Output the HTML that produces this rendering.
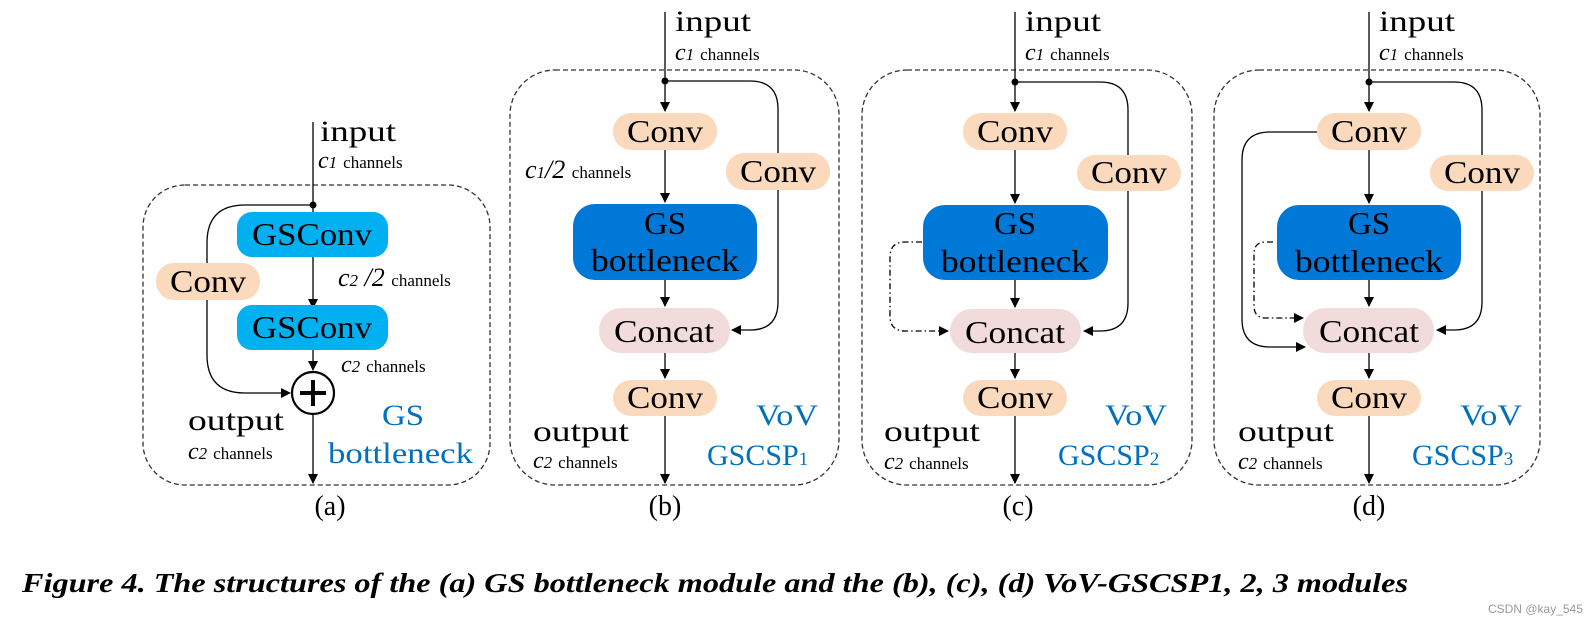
<!DOCTYPE html>
<html><head><meta charset="utf-8"><style>
html,body{margin:0;padding:0;background:#fff;}
svg{display:block;font-family:"Liberation Serif",serif;}
</style></head><body>
<svg width="1590" height="633" viewBox="0 0 1590 633" xmlns="http://www.w3.org/2000/svg">
<defs>
<marker id="ar" markerWidth="10" markerHeight="10" refX="9" refY="5" orient="auto" markerUnits="userSpaceOnUse">
<path d="M0,0 L10,5 L0,10 Z" fill="#000"/></marker>
</defs>
<g stroke="#000" stroke-width="1.3" fill="none">
<rect x="143" y="185" width="347" height="300" rx="42" stroke-dasharray="5,3" stroke="#333"/>
<rect x="510" y="70" width="329" height="415" rx="45" stroke-dasharray="5,3" stroke="#333"/>
<rect x="862" y="70" width="330" height="415" rx="45" stroke-dasharray="5,3" stroke="#333"/>
<rect x="1214" y="70" width="326" height="415" rx="45" stroke-dasharray="5,3" stroke="#333"/>
</g>

<!-- Panel a -->
<g stroke="#000" stroke-width="1.3" fill="none">
<line x1="313" y1="122" x2="313" y2="212"/>
<line x1="313" y1="257" x2="313" y2="308" marker-end="url(#ar)"/>
<line x1="313" y1="350" x2="313" y2="370" marker-end="url(#ar)"/>
<line x1="313" y1="414" x2="313" y2="483" marker-end="url(#ar)"/>
<path d="M313,205 H245 Q207,205 207,243 V355 Q207,393 245,393 H290" marker-end="url(#ar)"/>
<circle cx="313" cy="393" r="21" stroke-width="2.2"/>
<line x1="300" y1="393" x2="326" y2="393" stroke-width="4"/>
<line x1="313" y1="380" x2="313" y2="406" stroke-width="4"/>
</g>
<circle cx="313" cy="205" r="3.5"/>
<rect x="237" y="212" width="151" height="45" rx="15" fill="#00b0f0"/>
<rect x="237" y="305" width="151" height="45" rx="15" fill="#00b0f0"/>
<rect x="156" y="263" width="104" height="37" rx="18" fill="#fbd9bd"/>
<g font-size="32" fill="#000">
<text x="312" y="245" text-anchor="middle" textLength="120" lengthAdjust="spacingAndGlyphs">GSConv</text>
<text x="312" y="338" text-anchor="middle" textLength="120" lengthAdjust="spacingAndGlyphs">GSConv</text>
<text x="208" y="292" text-anchor="middle" textLength="76" lengthAdjust="spacingAndGlyphs">Conv</text>
<text x="320" y="141" font-size="30" textLength="76" lengthAdjust="spacingAndGlyphs">input</text>
<text x="318" y="168" font-size="24" font-style="italic">c<tspan font-size="17">1</tspan> <tspan font-style="normal" font-size="17">channels</tspan></text>
<text x="338" y="286" font-size="26" font-style="italic">c<tspan font-size="17">2</tspan> /2 <tspan font-style="normal" font-size="17">channels</tspan></text>
<text x="341" y="372" font-size="24" font-style="italic">c<tspan font-size="17">2</tspan> <tspan font-style="normal" font-size="17">channels</tspan></text>
<text x="188" y="430" font-size="30" textLength="96" lengthAdjust="spacingAndGlyphs">output</text>
<text x="188" y="459" font-size="24" font-style="italic">c<tspan font-size="17">2</tspan> <tspan font-style="normal" font-size="17">channels</tspan></text>
<text x="382" y="425" font-size="30" fill="#0070c0" textLength="42" lengthAdjust="spacingAndGlyphs">GS</text>
<text x="328" y="463" font-size="30" fill="#0070c0" textLength="145" lengthAdjust="spacingAndGlyphs">bottleneck</text>
<text x="330" y="515" font-size="28" text-anchor="middle">(a)</text>
</g>

<!-- Panel b -->
<g stroke="#000" stroke-width="1.3" fill="none">
<line x1="665" y1="12" x2="665" y2="111" marker-end="url(#ar)"/>
<line x1="665" y1="150" x2="665" y2="202" marker-end="url(#ar)"/>
<line x1="665" y1="280" x2="665" y2="306" marker-end="url(#ar)"/>
<line x1="665" y1="353" x2="665" y2="378" marker-end="url(#ar)"/>
<line x1="665" y1="415" x2="665" y2="483" marker-end="url(#ar)"/>
<path d="M665,81 H750 Q778,81 778,109 V302 Q778,330 750,330 H732" marker-end="url(#ar)"/>
</g>
<circle cx="665" cy="81" r="3.5"/>
<rect x="613" y="113" width="104" height="37" rx="18" fill="#fbd9bd"/>
<rect x="726" y="153" width="104" height="37" rx="18" fill="#fbd9bd"/>
<rect x="573" y="204" width="184" height="76" rx="22" fill="#0078d7"/>
<rect x="599" y="308" width="131" height="45" rx="22" fill="#f2dcdb"/>
<rect x="613" y="380" width="104" height="36" rx="18" fill="#fbd9bd"/>
<g font-size="32" fill="#000">
<text x="665" y="142" text-anchor="middle" textLength="76" lengthAdjust="spacingAndGlyphs">Conv</text>
<text x="778" y="182" text-anchor="middle" textLength="76" lengthAdjust="spacingAndGlyphs">Conv</text>
<text x="665" y="234" text-anchor="middle" textLength="42" lengthAdjust="spacingAndGlyphs">GS</text>
<text x="665" y="271" text-anchor="middle" textLength="148" lengthAdjust="spacingAndGlyphs">bottleneck</text>
<text x="664" y="342" text-anchor="middle" textLength="100" lengthAdjust="spacingAndGlyphs">Concat</text>
<text x="665" y="408" text-anchor="middle" textLength="76" lengthAdjust="spacingAndGlyphs">Conv</text>
<text x="675" y="31" font-size="30" textLength="76" lengthAdjust="spacingAndGlyphs">input</text>
<text x="675" y="60" font-size="24" font-style="italic">c<tspan font-size="17">1</tspan> <tspan font-style="normal" font-size="17">channels</tspan></text>
<text x="525" y="178" font-size="26" font-style="italic">c<tspan font-size="17">1</tspan>/2 <tspan font-style="normal" font-size="17">channels</tspan></text>
<text x="533" y="441" font-size="30" textLength="96" lengthAdjust="spacingAndGlyphs">output</text>
<text x="533" y="468" font-size="24" font-style="italic">c<tspan font-size="17">2</tspan> <tspan font-style="normal" font-size="17">channels</tspan></text>
<text x="756" y="425" font-size="30" fill="#0070c0" textLength="62" lengthAdjust="spacingAndGlyphs">VoV</text>
<text x="707" y="465" font-size="30" fill="#0070c0">GSCSP<tspan font-size="19">1</tspan></text>
<text x="665" y="515" font-size="28" text-anchor="middle">(b)</text>
</g>

<!-- Panel c -->
<g stroke="#000" stroke-width="1.3" fill="none">
<line x1="1015" y1="12" x2="1015" y2="111" marker-end="url(#ar)"/>
<line x1="1015" y1="150" x2="1015" y2="203" marker-end="url(#ar)"/>
<line x1="1015" y1="280" x2="1015" y2="307" marker-end="url(#ar)"/>
<line x1="1015" y1="353" x2="1015" y2="378" marker-end="url(#ar)"/>
<line x1="1015" y1="415" x2="1015" y2="483" marker-end="url(#ar)"/>
<path d="M1015,82 H1100 Q1128,82 1128,110 V303 Q1128,331 1100,331 H1084" marker-end="url(#ar)"/>
<path d="M922,242 H905 Q890,242 890,257 V316 Q890,331 905,331 H948" stroke-dasharray="6,3,1.5,3" marker-end="url(#ar)"/>
</g>
<circle cx="1015" cy="82" r="3.5"/>
<rect x="963" y="113" width="104" height="37" rx="18" fill="#fbd9bd"/>
<rect x="1077" y="155" width="104" height="36" rx="18" fill="#fbd9bd"/>
<rect x="923" y="205" width="185" height="75" rx="22" fill="#0078d7"/>
<rect x="950" y="309" width="131" height="44" rx="22" fill="#f2dcdb"/>
<rect x="963" y="380" width="104" height="36" rx="18" fill="#fbd9bd"/>
<g font-size="32" fill="#000">
<text x="1015" y="142" text-anchor="middle" textLength="76" lengthAdjust="spacingAndGlyphs">Conv</text>
<text x="1129" y="183" text-anchor="middle" textLength="76" lengthAdjust="spacingAndGlyphs">Conv</text>
<text x="1015" y="234" text-anchor="middle" textLength="42" lengthAdjust="spacingAndGlyphs">GS</text>
<text x="1015" y="272" text-anchor="middle" textLength="148" lengthAdjust="spacingAndGlyphs">bottleneck</text>
<text x="1015" y="343" text-anchor="middle" textLength="100" lengthAdjust="spacingAndGlyphs">Concat</text>
<text x="1015" y="408" text-anchor="middle" textLength="76" lengthAdjust="spacingAndGlyphs">Conv</text>
<text x="1025" y="31" font-size="30" textLength="76" lengthAdjust="spacingAndGlyphs">input</text>
<text x="1025" y="60" font-size="24" font-style="italic">c<tspan font-size="17">1</tspan> <tspan font-style="normal" font-size="17">channels</tspan></text>
<text x="884" y="441" font-size="30" textLength="96" lengthAdjust="spacingAndGlyphs">output</text>
<text x="884" y="469" font-size="24" font-style="italic">c<tspan font-size="17">2</tspan> <tspan font-style="normal" font-size="17">channels</tspan></text>
<text x="1105" y="425" font-size="30" fill="#0070c0" textLength="62" lengthAdjust="spacingAndGlyphs">VoV</text>
<text x="1058" y="465" font-size="30" fill="#0070c0">GSCSP<tspan font-size="19">2</tspan></text>
<text x="1018" y="515" font-size="28" text-anchor="middle">(c)</text>
</g>

<!-- Panel d -->
<g stroke="#000" stroke-width="1.3" fill="none">
<line x1="1369" y1="12" x2="1369" y2="111" marker-end="url(#ar)"/>
<line x1="1369" y1="150" x2="1369" y2="203" marker-end="url(#ar)"/>
<line x1="1369" y1="280" x2="1369" y2="306" marker-end="url(#ar)"/>
<line x1="1369" y1="353" x2="1369" y2="378" marker-end="url(#ar)"/>
<line x1="1369" y1="415" x2="1369" y2="483" marker-end="url(#ar)"/>
<path d="M1369,82 H1454 Q1482,82 1482,110 V302 Q1482,330 1454,330 H1437" marker-end="url(#ar)"/>
<path d="M1317,132 H1270 Q1242,132 1242,160 V319 Q1242,347 1270,347 H1305" marker-end="url(#ar)"/>
<path d="M1273,242 H1266 Q1254,242 1254,254 V306 Q1254,318 1266,318 H1303" stroke-dasharray="6,3,1.5,3" marker-end="url(#ar)"/>
</g>
<circle cx="1369" cy="82" r="3.5"/>
<rect x="1317" y="113" width="104" height="37" rx="18" fill="#fbd9bd"/>
<rect x="1430" y="155" width="104" height="36" rx="18" fill="#fbd9bd"/>
<rect x="1277" y="205" width="184" height="75" rx="22" fill="#0078d7"/>
<rect x="1303" y="308" width="131" height="45" rx="22" fill="#f2dcdb"/>
<rect x="1317" y="380" width="104" height="36" rx="18" fill="#fbd9bd"/>
<g font-size="32" fill="#000">
<text x="1369" y="142" text-anchor="middle" textLength="76" lengthAdjust="spacingAndGlyphs">Conv</text>
<text x="1482" y="183" text-anchor="middle" textLength="76" lengthAdjust="spacingAndGlyphs">Conv</text>
<text x="1369" y="234" text-anchor="middle" textLength="42" lengthAdjust="spacingAndGlyphs">GS</text>
<text x="1369" y="272" text-anchor="middle" textLength="148" lengthAdjust="spacingAndGlyphs">bottleneck</text>
<text x="1369" y="342" text-anchor="middle" textLength="100" lengthAdjust="spacingAndGlyphs">Concat</text>
<text x="1369" y="408" text-anchor="middle" textLength="76" lengthAdjust="spacingAndGlyphs">Conv</text>
<text x="1379" y="31" font-size="30" textLength="76" lengthAdjust="spacingAndGlyphs">input</text>
<text x="1379" y="60" font-size="24" font-style="italic">c<tspan font-size="17">1</tspan> <tspan font-style="normal" font-size="17">channels</tspan></text>
<text x="1238" y="441" font-size="30" textLength="96" lengthAdjust="spacingAndGlyphs">output</text>
<text x="1238" y="469" font-size="24" font-style="italic">c<tspan font-size="17">2</tspan> <tspan font-style="normal" font-size="17">channels</tspan></text>
<text x="1460" y="425" font-size="30" fill="#0070c0" textLength="62" lengthAdjust="spacingAndGlyphs">VoV</text>
<text x="1412" y="465" font-size="30" fill="#0070c0">GSCSP<tspan font-size="19">3</tspan></text>
<text x="1369" y="515" font-size="28" text-anchor="middle">(d)</text>
</g>

<text x="22" y="592" font-size="27" font-weight="bold" font-style="italic" textLength="1386" lengthAdjust="spacingAndGlyphs">Figure 4. The structures of the (a) GS bottleneck module and the (b), (c), (d) VoV-GSCSP1, 2, 3 modules</text>
<text x="1488" y="613" font-family="Liberation Sans, sans-serif" font-size="12" fill="#999">CSDN @kay_545</text>
</svg>
</body></html>
